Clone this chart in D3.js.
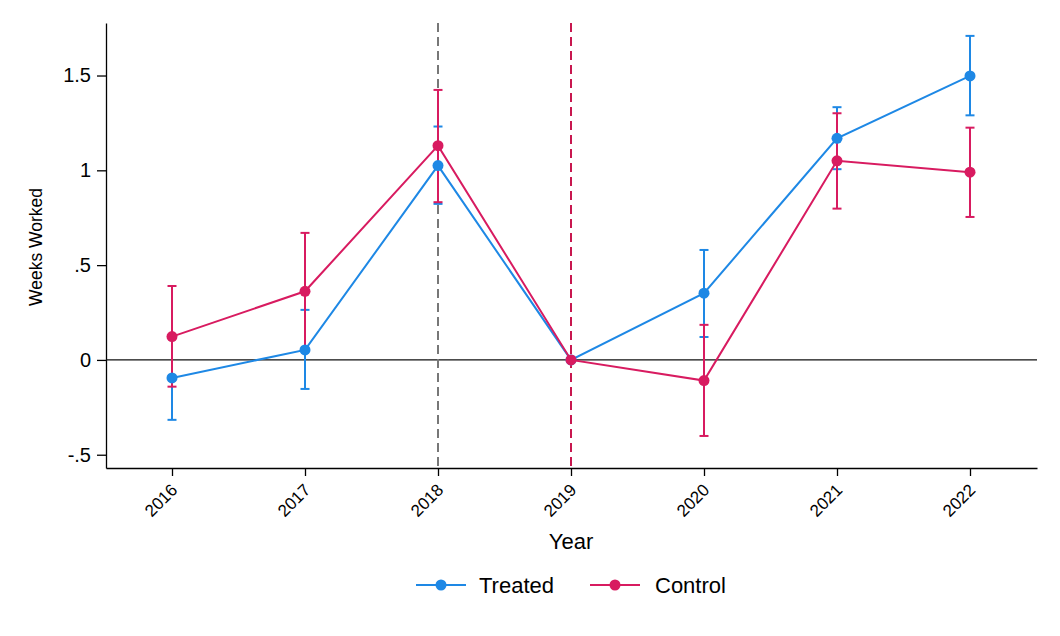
<!DOCTYPE html>
<html>
<head>
<meta charset="utf-8">
<script src="https://cdn.jsdelivr.net/npm/d3@7"></script>
<style>
  body { margin: 0; background: #fff; }
  svg { display: block; font-family: "Liberation Sans", Arial, sans-serif; }
</style>
</head>
<body>
<div id="chart"></div>
<script>
// data
const years = [2016, 2017, 2018, 2019, 2020, 2021, 2022];
const treatedEst = [-0.095, 0.053, 1.025, 0, 0.352, 1.169, 1.498];
const treatedLo  = [-0.316, -0.153, 0.823, 0, 0.121, 1.006, 1.290];
const treatedHi  = [0.126, 0.264, 1.231, 0, 0.580, 1.333, 1.709];
const controlEst = [0.123, 0.362, 1.130, 0, -0.109, 1.050, 0.990];
const controlLo  = [-0.141, 0.053, 0.832, 0, -0.401, 0.798, 0.754];
const controlHi  = [0.390, 0.670, 1.424, 0, 0.185, 1.301, 1.225];
const yTicks = [-0.5, 0, 0.5, 1, 1.5];
const yTickLabels = ["-.5", "0", ".5", "1", "1.5"];
const refYears = [2018, 2019];

const width = 1060, height = 636;

const blue = "#1E88E5";
const red = "#D81B60";

const svg = d3.select("#chart").append("svg")
    .attr("width", width)
    .attr("height", height);

// plot area 106..1037 wide, 23..468 tall; years 133px apart starting at 172
const x = d3.scaleLinear()
    .domain([2016 - 66 / 133, 2016 + 865 / 133])
    .range([106, 1037]);

const y = d3.scaleLinear()
    .domain([-0.57, 1.777])
    .range([468, 23]);

// axes
const xAxis = svg.append("g")
    .attr("transform", `translate(0,${y.range()[0]})`)
    .call(d3.axisBottom(x).tickValues(years).tickFormat(d3.format("d")).tickSize(8).tickSizeOuter(0));
xAxis.select(".domain").attr("stroke", "#000").attr("stroke-width", 1.3);
xAxis.selectAll(".tick line").attr("stroke", "#000").attr("stroke-width", 1.3);
xAxis.selectAll(".tick text")
    .attr("font-size", 17)
    .attr("fill", "#000")
    .attr("text-anchor", "end")
    .attr("x", 0).attr("y", 0).attr("dy", 0)
    .attr("transform", "translate(6,23) rotate(-45)");

const yAxis = svg.append("g")
    .attr("transform", `translate(${x.range()[0]},0)`)
    .call(d3.axisLeft(y).tickValues(yTicks).tickFormat((d, i) => yTickLabels[i]).tickSize(9).tickSizeOuter(0).tickPadding(6));
yAxis.select(".domain").attr("stroke", "#000").attr("stroke-width", 1.3);
yAxis.selectAll(".tick line").attr("stroke", "#000").attr("stroke-width", 1.3);
yAxis.selectAll(".tick text").attr("font-size", 20).attr("fill", "#000");

// zero line
svg.append("line")
    .attr("x1", x.range()[0]).attr("x2", x.range()[1])
    .attr("y1", y(0)).attr("y2", y(0))
    .attr("stroke", "#111").attr("stroke-width", 1.3);

// reference lines
svg.selectAll(".refline")
    .data(refYears)
    .enter()
    .append("line")
    .attr("class", "refline")
    .attr("x1", d => x(d)).attr("x2", d => x(d))
    .attr("y1", y.range()[1]).attr("y2", y.range()[0])
    .attr("stroke", (d, i) => i === 0 ? "#777" : "#C8174F")
    .attr("stroke-width", 2)
    .attr("stroke-dasharray", "9,5");

const series = [
    { name: "Treated", color: blue, est: treatedEst, lo: treatedLo, hi: treatedHi },
    { name: "Control", color: red, est: controlEst, lo: controlLo, hi: controlHi },
];

// error bars first
series.forEach(s => {
    const g = svg.append("g");
    years.forEach((yr, i) => {
        if (s.lo[i] === s.hi[i]) return;
        g.append("line")
            .attr("x1", x(yr)).attr("x2", x(yr))
            .attr("y1", y(s.lo[i])).attr("y2", y(s.hi[i]))
            .attr("stroke", s.color).attr("stroke-width", 2);
        [s.lo[i], s.hi[i]].forEach(v => {
            g.append("line")
                .attr("x1", x(yr) - 4.5).attr("x2", x(yr) + 4.5)
                .attr("y1", y(v)).attr("y2", y(v))
                .attr("stroke", s.color).attr("stroke-width", 2);
        });
    });
});

// lines and points
const line = d3.line().x((d, i) => x(years[i])).y(d => y(d));
series.forEach(s => {
    svg.append("path")
        .datum(s.est)
        .attr("d", line)
        .attr("fill", "none")
        .attr("stroke", s.color)
        .attr("stroke-width", 2);
    svg.selectAll(null)
        .data(s.est)
        .enter()
        .append("circle")
        .attr("cx", (d, i) => x(years[i]))
        .attr("cy", d => y(d))
        .attr("r", 5.5)
        .attr("fill", s.color);
});

// axis titles
svg.append("text")
    .attr("x", x(2019))
    .attr("y", 549)
    .attr("text-anchor", "middle")
    .attr("font-size", 22)
    .text("Year");

svg.append("text")
    .attr("transform", `translate(42,247) rotate(-90)`)
    .attr("text-anchor", "middle")
    .attr("font-size", 17.5)
    .text("Weeks Worked");

// legend
const legendItems = [
    { name: "Treated", color: blue, lx: 416, tx: 479 },
    { name: "Control", color: red, lx: 590, tx: 655 },
];
const legend = svg.append("g");
legendItems.forEach(d => {
    legend.append("line")
        .attr("x1", d.lx).attr("x2", d.lx + 50)
        .attr("y1", 585).attr("y2", 585)
        .attr("stroke", d.color).attr("stroke-width", 2);
    legend.append("circle")
        .attr("cx", d.lx + 25).attr("cy", 585).attr("r", 5.5)
        .attr("fill", d.color);
    legend.append("text")
        .attr("x", d.tx)
        .attr("y", 593)
        .attr("font-size", 22)
        .text(d.name);
});
</script>
</body>
</html>
